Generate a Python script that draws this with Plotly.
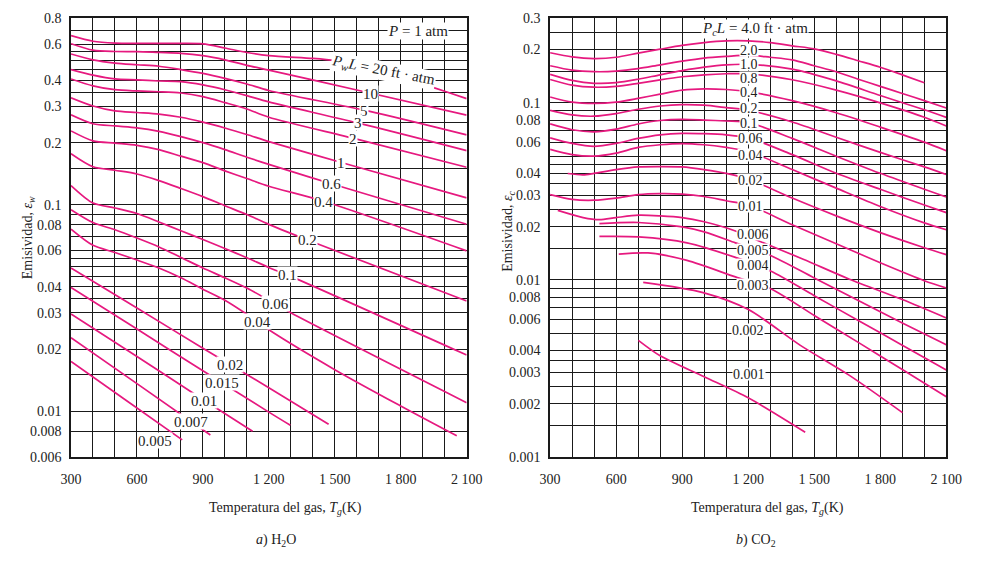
import numpy as np
import plotly.graph_objects as go

PINK = "#E6197F"
SERIF = "Liberation Serif, Times New Roman, serif"
GRID = "#1a1a1a"

# ---------------- (a) H2O : emissivity vs gas temperature ----------------
w20_T = [300, 400, 500, 600, 700, 800, 900, 1000, 1100, 1200, 1400, 1500, 1600, 1700, 1800, 1900, 2000, 2100]
w20_e = [0.66, 0.62, 0.607, 0.605, 0.605, 0.605, 0.602, 0.575, 0.547, 0.528, 0.512, 0.50, 0.478, 0.455, 0.42, 0.385, 0.355, 0.327]
w10_T = [300, 400, 500, 600, 700, 800, 900, 1000, 1100, 1200, 1600, 2100]
w10_e = [0.603, 0.561, 0.553, 0.552, 0.547, 0.542, 0.528, 0.504, 0.474, 0.449, 0.36, 0.272]
w5_T = [300, 400, 500, 600, 700, 800, 900, 1000, 1100, 1200, 1650, 2100]
w5_e = [0.538, 0.504, 0.486, 0.477, 0.469, 0.452, 0.433, 0.41, 0.385, 0.358, 0.285, 0.218]
w3_T = [300, 400, 500, 600, 700, 800, 900, 1000, 1100, 1200, 1600, 2100]
w3_e = [0.452, 0.425, 0.407, 0.403, 0.398, 0.395, 0.381, 0.361, 0.338, 0.315, 0.25, 0.183]
w2_T = [300, 400, 500, 600, 700, 800, 900, 1000, 1100, 1200, 1600, 2100]
w2_e = [0.407, 0.377, 0.361, 0.356, 0.353, 0.348, 0.334, 0.3125, 0.291, 0.2655, 0.208, 0.152]
w1_T = [300, 400, 500, 600, 700, 800, 900, 1000, 1100, 1200, 1550, 2100]
w1_e = [0.33, 0.301, 0.285, 0.28, 0.275, 0.2655, 0.2515, 0.2356, 0.219, 0.2024, 0.158, 0.108]
w06_T = [300, 400, 500, 600, 700, 800, 900, 1000, 1100, 1200, 1500, 2100]
w06_e = [0.273, 0.247, 0.241, 0.236, 0.227, 0.214, 0.200, 0.185, 0.170, 0.157, 0.125, 0.0805]
w04_T = [300, 400, 500, 600, 700, 800, 900, 1000, 1100, 1200, 1450, 2100]
w04_e = [0.228, 0.204, 0.199, 0.194, 0.185, 0.172, 0.160, 0.146, 0.134, 0.123, 0.104, 0.0598]
w02_T = [300, 400, 500, 600, 700, 800, 900, 1000, 1100, 1200, 1400, 2100]
w02_e = [0.177, 0.153, 0.147, 0.141, 0.131, 0.120, 0.1095, 0.099, 0.0897, 0.0804, 0.066, 0.0342]
w01_T = [300, 400, 500, 600, 700, 800, 900, 1000, 1100, 1200, 1300, 2100]
w01_e = [0.124, 0.102, 0.0965, 0.0907, 0.0826, 0.0748, 0.0679, 0.0614, 0.0554, 0.0497, 0.045, 0.0187]
w006_T = [300, 400, 500, 600, 700, 800, 900, 1000, 1100, 1200, 1300, 2100]
w006_e = [0.0947, 0.082, 0.0757, 0.069, 0.0625, 0.0556, 0.0494, 0.0443, 0.0395, 0.0345, 0.030, 0.011]
w004_T = [300, 400, 500, 600, 700, 800, 900, 1000, 1100, 1200, 1500, 1800, 2055]
w004_e = [0.0762, 0.0636, 0.0587, 0.054, 0.0494, 0.0443, 0.039, 0.0345, 0.0295, 0.0248, 0.0159, 0.0106, 0.0076]
w002_T = [300, 600, 900, 1200, 1472]
w002_e = [0.0494, 0.0316, 0.0202, 0.0130, 0.00864]
w0015_T = [300, 600, 900, 1200, 1298]
w0015_e = [0.0398, 0.025, 0.0157, 0.0099, 0.00855]
w001_T = [300, 600, 900, 1126]
w001_e = [0.0296, 0.0184, 0.0114, 0.0080]
w0007_T = [300, 600, 934]
w0007_e = [0.0227, 0.0136, 0.00767]
w0005_T = [300, 550, 806]
w0005_e = [0.0174, 0.0113, 0.00726]

h2o_names = ["20", "10", "5", "3", "2", "1", "0.6", "0.4", "0.2", "0.1",
             "0.06", "0.04", "0.02", "0.015", "0.01", "0.007", "0.005"]
h2o_curves = [(w20_T, w20_e), (w10_T, w10_e), (w5_T, w5_e), (w3_T, w3_e), (w2_T, w2_e),
              (w1_T, w1_e), (w06_T, w06_e), (w04_T, w04_e), (w02_T, w02_e), (w01_T, w01_e),
              (w006_T, w006_e), (w004_T, w004_e), (w002_T, w002_e), (w0015_T, w0015_e),
              (w001_T, w001_e), (w0007_T, w0007_e), (w0005_T, w0005_e)]
# temperature at which each curve's label sits
h2o_label_T = [1722, 1664, 1635, 1605, 1583, 1528, 1487, 1450, 1376, 1284,
               1229, 1148, 1023, 986, 904, 846, 683]

# ---------------- (b) CO2 : emissivity vs gas temperature ----------------
c40_T = [300, 400, 500, 600, 700, 800, 900, 1000, 1100, 1200, 1300, 1400, 1500, 1600, 1700, 1800, 1900, 2000]
c40_e = [0.192, 0.182, 0.178, 0.181, 0.191, 0.201, 0.211, 0.219, 0.224, 0.224, 0.219, 0.210, 0.202, 0.188, 0.173, 0.159, 0.144, 0.130]
c20_T = [300, 400, 500, 600, 700, 800, 900, 1000, 1100, 1200, 1300, 1400, 1500, 1600, 1700, 1800, 1900, 2000, 2100]
c20_e = [0.162, 0.153, 0.150, 0.151, 0.156, 0.164, 0.172, 0.179, 0.183, 0.186, 0.181, 0.175, 0.162, 0.150, 0.136, 0.124, 0.113, 0.103, 0.0936]
c10_T = [300, 400, 500, 600, 700, 800, 900, 1000, 1100, 1200, 1400, 1600, 1800, 2000, 2100]
c10_e = [0.145, 0.134, 0.129, 0.130, 0.136, 0.144, 0.152, 0.159, 0.164, 0.165, 0.155, 0.133, 0.110, 0.0914, 0.0828]
c08_T = [300, 400, 500, 600, 700, 800, 900, 1000, 1100, 1200, 1400, 1600, 1800, 2000, 2100]
c08_e = [0.1356, 0.126, 0.1226, 0.124, 0.129, 0.135, 0.1404, 0.144, 0.146, 0.146, 0.135, 0.118, 0.100, 0.083, 0.0741]
c04_T = [300, 400, 500, 600, 700, 800, 900, 1000, 1100, 1200, 1400, 1600, 1800, 2000, 2100]
c04_e = [0.108, 0.101, 0.0993, 0.101, 0.106, 0.112, 0.118, 0.120, 0.119, 0.1157, 0.103, 0.088, 0.073, 0.060, 0.0537]
c02_T = [300, 400, 500, 600, 700, 800, 900, 1000, 1100, 1200, 1400, 1600, 1800, 2000, 2100]
c02_e = [0.0908, 0.0855, 0.0841, 0.087, 0.092, 0.096, 0.0977, 0.097, 0.094, 0.0908, 0.078, 0.064, 0.0525, 0.0435, 0.0394]
c01_T = [300, 400, 500, 600, 700, 800, 900, 1000, 1100, 1200, 1400, 1600, 1800, 2000, 2100]
c01_e = [0.0761, 0.0705, 0.0686, 0.071, 0.076, 0.0795, 0.0807, 0.080, 0.079, 0.0776, 0.063, 0.050, 0.040, 0.0325, 0.0294]
c006_T = [300, 400, 500, 600, 700, 800, 900, 1000, 1100, 1200, 1400, 1600, 1800, 2000, 2100]
c006_e = [0.0635, 0.059, 0.0568, 0.059, 0.063, 0.066, 0.0673, 0.067, 0.066, 0.0635, 0.051, 0.040, 0.0325, 0.0265, 0.024]
c004_T = [300, 400, 500, 600, 700, 800, 900, 1000, 1100, 1200, 1400, 1600, 1800, 2000, 2100]
c004_e = [0.0546, 0.051, 0.050, 0.052, 0.056, 0.058, 0.0589, 0.058, 0.056, 0.0532, 0.042, 0.033, 0.026, 0.021, 0.0192]
c002_T = [380, 450, 500, 600, 700, 800, 900, 1000, 1100, 1200, 1400, 1600, 1800, 2000, 2100]
c002_e = [0.0399, 0.0392, 0.040, 0.042, 0.0435, 0.0437, 0.0435, 0.042, 0.040, 0.0372, 0.029, 0.023, 0.0185, 0.0152, 0.0139]
c001_T = [300, 400, 500, 600, 700, 800, 900, 1000, 1100, 1200, 1400, 1600, 1800, 2000, 2100]
c001_e = [0.0303, 0.0285, 0.0282, 0.029, 0.0303, 0.0307, 0.0305, 0.0296, 0.028, 0.0265, 0.0205, 0.016, 0.0125, 0.0099, 0.009]
c0006_T = [335, 450, 524, 600, 701, 800, 900, 1000, 1142, 1238, 1450, 1660, 1900, 2100]
c0006_e = [0.0247, 0.0225, 0.0219, 0.0225, 0.0232, 0.023, 0.0225, 0.0213, 0.0189, 0.0168, 0.0131, 0.0101, 0.00775, 0.0061]
c0005_T = [524, 701, 893, 1000, 1142, 1304, 1500, 1700, 1900, 2100]
c0005_e = [0.0208, 0.0211, 0.020, 0.0187, 0.0162, 0.0137, 0.01026, 0.00766, 0.00572, 0.0043]
c0004_T = [524, 701, 922, 1142, 1304, 1500, 1700, 1900, 2100]
c0004_e = [0.0176, 0.0175, 0.0162, 0.0134, 0.0112, 0.00815, 0.0059, 0.00428, 0.0031]
c0003_T = [612, 745, 922, 1142, 1304, 1500, 1700, 1900, 2100]
c0003_e = [0.014, 0.0142, 0.0129, 0.0104, 0.0089, 0.0063, 0.00444, 0.00312, 0.00219]
c0002_T = [723, 995, 1201, 1437, 1658, 1901]
c0002_e = [0.00968, 0.00848, 0.0068, 0.00427, 0.0029, 0.00178]
c0001_T = [701, 800, 1000, 1200, 1459]
c0001_e = [0.00456, 0.00373, 0.00284, 0.00216, 0.00138]

co2_names = ["4.0", "2.0", "1.0", "0.8", "0.4", "0.2", "0.1", "0.06", "0.04", "0.02",
             "0.01", "0.006", "0.005", "0.004", "0.003", "0.002", "0.001"]
co2_curves = [(c40_T, c40_e), (c20_T, c20_e), (c10_T, c10_e), (c08_T, c08_e), (c04_T, c04_e),
              (c02_T, c02_e), (c01_T, c01_e), (c006_T, c006_e), (c004_T, c004_e), (c002_T, c002_e),
              (c001_T, c001_e), (c0006_T, c0006_e), (c0005_T, c0005_e), (c0004_T, c0004_e),
              (c0003_T, c0003_e), (c0002_T, c0002_e), (c0001_T, c0001_e)]
co2_label_T = [None, 1205, 1205, 1205, 1205, 1205, 1205, 1212, 1212, 1212,
               1212, 1222, 1222, 1222, 1222, 1200, 1205]
# small vertical nudges (in decades) that keep the stacked labels apart
co2_label_shift = {"2.0": 0.03, "0.8": -0.022, "0.2": 0.015, "0.1": 0.0, "0.06": 0.005, "0.04": -0.012,
                   "0.006": 0.028, "0.005": -0.004, "0.004": -0.006, "0.003": -0.01}

# axis ticks
x_ticks = [300, 600, 900, 1200, 1500, 1800, 2100]
x_ticktext = ["300", "600", "900", "1 200", "1 500", "1 800", "2 100"]
x_minor = [t for t in range(400, 2100, 100) if t not in x_ticks]
h2o_yticks = [0.8, 0.6, 0.4, 0.3, 0.2, 0.1, 0.08, 0.06, 0.04, 0.03, 0.02, 0.01, 0.008, 0.006]
h2o_ygrid = [0.7, 0.55, 0.5, 0.45, 0.35, 0.25, 0.15, 0.09, 0.07, 0.055, 0.05, 0.045, 0.035, 0.025, 0.015]
co2_yticks = [0.3, 0.2, 0.1, 0.08, 0.06, 0.04, 0.03, 0.02, 0.01, 0.008, 0.006, 0.004, 0.003, 0.002, 0.001]
co2_ygrid = [0.25, 0.15, 0.09, 0.07, 0.05, 0.045, 0.035, 0.025, 0.015, 0.009, 0.007, 0.005, 0.0035, 0.0025, 0.0015]


def log_at(T, e, t):
    return float(np.interp(t, T, np.log10(e)))


fig = go.Figure()
for (T, e) in h2o_curves:
    fig.add_trace(go.Scatter(x=T, y=e, mode="lines", xaxis="x", yaxis="y",
                             line=dict(color=PINK, width=1.7, shape="spline", smoothing=0.8),
                             showlegend=False, hoverinfo="skip"))
for (T, e) in co2_curves:
    fig.add_trace(go.Scatter(x=T, y=e, mode="lines", xaxis="x2", yaxis="y2",
                             line=dict(color=PINK, width=1.7, shape="spline", smoothing=0.8),
                             showlegend=False, hoverinfo="skip"))

annotations = []


def add_label(text, x, ylog, xref, yref, angle=0, size=14, height=None):
    ann = dict(text=text, x=x, y=ylog, xref=xref, yref=yref, showarrow=False,
               xanchor="center", yanchor="middle",
               bgcolor="white", borderpad=0, textangle=angle,
               font=dict(family=SERIF, size=size, color="#222"))
    if height is not None:
        ann["height"] = height
    annotations.append(ann)


# H2O curve labels
for name, (T, e), t in zip(h2o_names, h2o_curves, h2o_label_T):
    if name == "20":
        add_label("<i>P<sub>w</sub>L</i> = 20 ft · atm", t, log_at(T, e, t), "x", "y", angle=11, size=15)
    elif name == "0.005":
        add_label(name, t, np.log10(0.0072), "x", "y", size=15, height=15)
    else:
        add_label(name, t, log_at(T, e, t), "x", "y", size=15, height=15)
add_label("<i>P</i> = 1 atm", 1878, np.log10(0.692), "x", "y", size=15)

# CO2 curve labels
for name, (T, e), t in zip(co2_names, co2_curves, co2_label_T):
    if t is None:
        continue
    if name == "0.002":
        yl = np.log10(0.00524)
    elif name == "0.001":
        yl = np.log10(0.00296)
    else:
        yl = log_at(T, e, t) + co2_label_shift.get(name, 0.0)
    add_label(name, t, yl, "x2", "y2", size=14, height=12)
add_label("<i>P<sub>c</sub>L</i> = 4.0 ft · atm", 1231, np.log10(0.262), "x2", "y2", size=15)

# axis titles and panel captions
txt = dict(family=SERIF, size=14, color="#222")


def paper_text(text, px, py, angle=0):
    annotations.append(dict(text=text, x=px / 984, y=1 - py / 564, xref="paper", yref="paper",
                            xanchor="center", yanchor="middle", showarrow=False,
                            textangle=angle, font=txt))


paper_text("Emisividad, <i>ε<sub>w</sub></i>", 18, 237, -90)
paper_text("Emisividad, <i>ε<sub>c</sub></i>", 512, 230, -90)
paper_text("Temperatura del gas, <i>T<sub>g</sub></i>(K)", 282, 515)
paper_text("Temperatura del gas, <i>T<sub>g</sub></i>(K)", 778, 515)
paper_text("<i>a</i>) H<sub>2</sub>O", 272, 548)
paper_text("<i>b</i>) CO<sub>2</sub>", 766, 548)

tickfont = dict(family=SERIF, size=14, color="#222")
common_x = dict(range=[300, 2100], tickmode="array", tickvals=x_ticks, ticktext=x_ticktext,
                showgrid=True, gridcolor=GRID, gridwidth=1, zeroline=False,
                showline=True, linecolor=GRID, linewidth=1.5, mirror=True, ticks="",
                tickfont=tickfont, ticklabelstandoff=8,
                minor=dict(tickvals=x_minor, showgrid=True, gridcolor=GRID, gridwidth=1, ticks=""))


def y_axis(domain_y, rng, ticks, grid, anchor):
    return dict(type="log", domain=domain_y, range=[np.log10(rng[0]), np.log10(rng[1])],
                tickmode="array", tickvals=ticks, ticktext=[f"{v:g}" for v in ticks],
                showgrid=True, gridcolor=GRID, gridwidth=1, zeroline=False,
                showline=True, linecolor=GRID, linewidth=1.5, mirror=True, ticks="",
                tickfont=tickfont, ticklabelstandoff=5, anchor=anchor,
                minor=dict(tickvals=grid, showgrid=True, gridcolor=GRID, gridwidth=1, ticks=""))


ydom = [1 - 462.3 / 564, 1 - 11.7 / 564]
fig.update_layout(
    width=984, height=564, margin=dict(l=0, r=0, t=0, b=0),
    paper_bgcolor="white", plot_bgcolor="white",
    xaxis=dict(domain=[61.7 / 984, 468.5 / 984], anchor="y", **common_x),
    yaxis=y_axis(ydom, (0.006, 0.8), h2o_yticks, h2o_ygrid, "x"),
    xaxis2=dict(domain=[554.3 / 984, 961.7 / 984], anchor="y2", **common_x),
    yaxis2=y_axis(ydom, (0.001, 0.3), co2_yticks, co2_ygrid, "x2"),
    annotations=annotations,
)

fig.write_html("out.html")
